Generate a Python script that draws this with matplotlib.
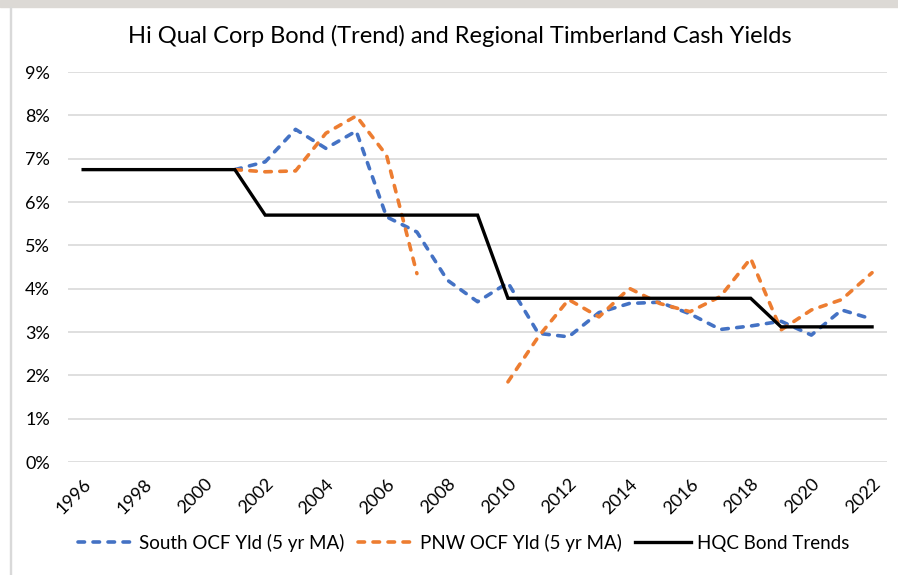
import numpy as np
import matplotlib.pyplot as plt
from matplotlib.ticker import PercentFormatter

plt.rcParams['font.family'] = ['Lato', 'DejaVu Sans']
plt.rcParams['lines.scale_dashes'] = False

# yearly values, % yield (None = no data)
years = list(range(1996, 2023))
south_ocf = [None, None, None, None, None,
             6.75, 6.93, 7.68, 7.24, 7.64, 5.66, 5.31, 4.20, 3.70, 4.14,
             2.97, 2.89, 3.45, 3.66, 3.69, 3.42, 3.06, 3.14, 3.25, 2.93,
             3.51, 3.30]
pnw_ocf = [None, None, None, None, None,
           6.75, 6.70, 6.72, 7.59, 7.99, 7.08, 4.35, None, None, 1.85,
           2.89, 3.75, 3.35, 4.01, 3.66, 3.47, 3.82, 4.70, 3.05, 3.51,
           3.75, 4.37]
hqc_bond = [6.75, 6.75, 6.75, 6.75, 6.75,
            6.75, 5.70, 5.70, 5.70, 5.70, 5.70, 5.70, 5.70, 5.70, 3.78,
            3.78, 3.78, 3.78, 3.78, 3.78, 3.78, 3.78, 3.78, 3.12, 3.12,
            3.12, 3.12]
tick_years = years[::2]


def to_arr(vals):
    return np.array([np.nan if v is None else v / 100.0 for v in vals])


fig = plt.figure(figsize=(8.98, 5.75), dpi=100)
ax = fig.add_axes([0.0757, 0.1965, 0.9123, 0.678])

# screenshot frame bits
fig.patches.append(plt.Rectangle((0, 0.988), 1, 0.012, transform=fig.transFigure,
                                 color='#dcd9d5', zorder=0))
fig.patches.append(plt.Rectangle((0.011, 0), 0.0015, 0.988, transform=fig.transFigure,
                                 color='#d9d9d9', zorder=0))

dash = (4.7, 6.1)
ax.plot(years, to_arr(south_ocf), color='#4472C4', lw=2.6, dashes=dash,
        dash_capstyle='round', label='South OCF Yld (5 yr MA)')
ax.plot(years, to_arr(pnw_ocf), color='#ED7D31', lw=2.6, dashes=dash,
        dash_capstyle='round', label='PNW OCF Yld (5 yr MA)')
ax.plot(years, to_arr(hqc_bond), color='black', lw=2.4,
        solid_joinstyle='miter', label='HQC Bond Trends')

ax.set_xlim(1995.5, 2022.5)
ax.set_ylim(0, 0.09)
ax.yaxis.set_major_formatter(PercentFormatter(1.0, decimals=0))
ax.set_yticks(np.arange(0, 0.091, 0.01))
ax.set_xticks(tick_years)
ax.set_xticklabels([str(y) for y in tick_years], rotation=45,
                   ha='right', rotation_mode='anchor')
ax.tick_params(axis='both', length=0, labelsize=13, colors='black')
ax.tick_params(axis='x', pad=10)
ax.tick_params(axis='y', pad=13)
ax.grid(axis='y', color='#d9d9d9', lw=1.2)
ax.set_axisbelow(True)
for s in ax.spines.values():
    s.set_visible(False)

fig.text(0.512, 0.938, 'Hi Qual Corp Bond (Trend) and Regional Timberland Cash Yields',
         ha='center', va='center', fontsize=17)

fig.legend(loc='center', bbox_to_anchor=(0.516, 0.056), ncol=3, frameon=False,
           fontsize=13.5, handlelength=3.0, handletextpad=0.3, columnspacing=0.7)

fig.savefig('out.png', dpi=100)
